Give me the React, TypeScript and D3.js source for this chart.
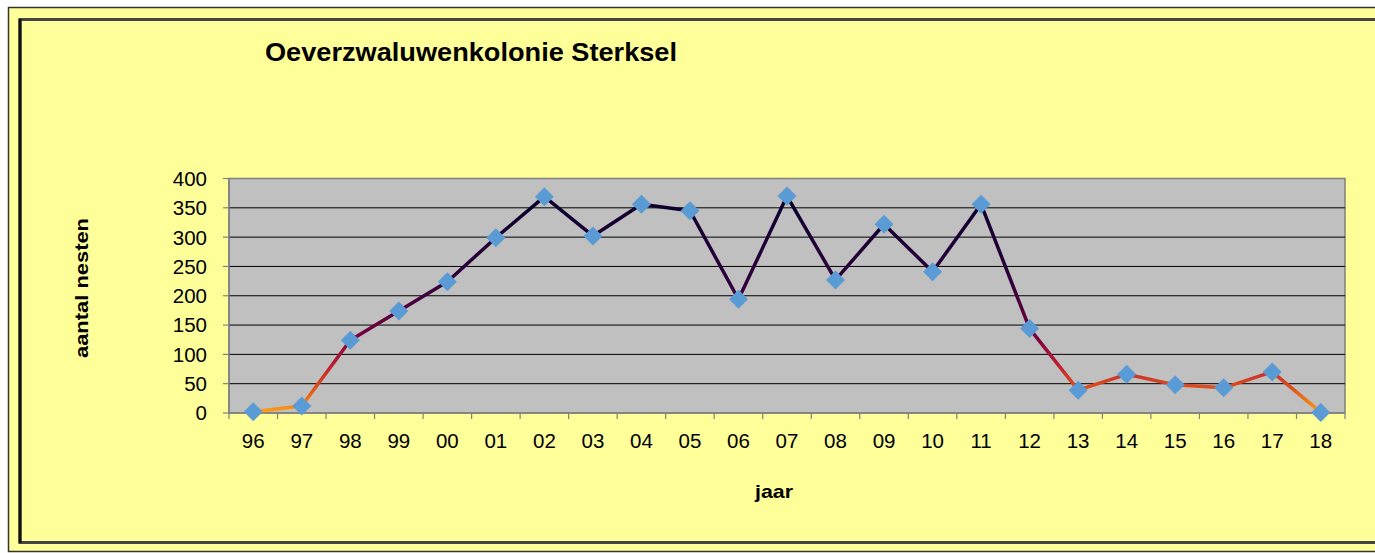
import React from "react";
import * as d3 from "d3";

const years = ["96","97","98","99","00","01","02","03","04","05","06","07","08","09","10","11","12","13","14","15","16","17","18"];
const nests = [2,12,124,174,224,299,369,302,356,345,194,370,227,322,241,356,144,39,66,48,43,70,1];
const yTicks = [0,50,100,150,200,250,300,350,400];

const W = 1375, H = 553;
const plot = { left: 229, right: 1345, top: 178.5, bottom: 413 };

export default function App() {
  const x = d3.scaleBand<string>().domain(years).range([plot.left, plot.right]).padding(0);
  const y = d3.scaleLinear().domain([0, 400]).range([plot.bottom, plot.top]);
  const cx = (d: string) => (x(d) as number) + x.bandwidth() / 2;
  const line = d3.line<number>().x((_, i) => cx(years[i])).y((v) => y(v));
  const font = "'Liberation Sans', Arial, sans-serif";
  const boundaries = years.map((d) => x(d) as number).concat([plot.right]);
  const ms = 9.5;
  return (
    <svg width={W} height={H} style={{ position: "absolute", left: 0, top: 0 }}>
      <defs>
        <linearGradient id="lg" gradientUnits="userSpaceOnUse" x1={0} x2={0} y1={y(0)} y2={y(400)}>
          <stop offset="0%" stopColor="#FFA010" />
          <stop offset="10%" stopColor="#E0541A" />
          <stop offset="20%" stopColor="#C02030" />
          <stop offset="32%" stopColor="#7A0040" />
          <stop offset="55%" stopColor="#30003C" />
          <stop offset="100%" stopColor="#000028" />
        </linearGradient>
      </defs>
      <rect x={0} y={0} width={W} height={H} fill="#ffffff" />
      <rect x={8.5} y={7.5} width={W + 20} height={544} fill="#FFFF99" stroke="#333" strokeWidth={1.5} />
      <rect x={20} y={19.5} width={W + 20} height={523} fill="#FFFF99" stroke="#444" strokeWidth={3} />
      <line x1={20} y1={19} x2={20} y2={543} stroke="#111" strokeWidth={3} />
      <text x={265} y={60.5} fontFamily={font} fontWeight="bold" fontSize={25} textLength={412} lengthAdjust="spacingAndGlyphs" fill="#000">Oeverzwaluwenkolonie Sterksel</text>
      <rect x={plot.left} y={plot.top} width={plot.right - plot.left} height={plot.bottom - plot.top} fill="#C0C0C0" stroke="#808080" strokeWidth={1.5} />
      {yTicks.filter((t) => t > 0 && t < 400).map((t) => (
        <line key={t} x1={plot.left} x2={plot.right} y1={y(t)} y2={y(t)} stroke="#000" strokeWidth={1} />
      ))}
      <line x1={plot.left} x2={plot.left} y1={plot.top} y2={plot.bottom} stroke="#808080" strokeWidth={1.5} />
      <line x1={plot.left} x2={plot.right} y1={plot.bottom} y2={plot.bottom} stroke="#808080" strokeWidth={1.5} />
      {yTicks.map((t) => (
        <g key={t}>
          <line x1={plot.left - 6} x2={plot.left} y1={y(t)} y2={y(t)} stroke="#808080" strokeWidth={1.2} />
          <text x={207} y={y(t)} dy="0.36em" textAnchor="end" fontFamily={font} fontSize={20.5} fill="#000">{t}</text>
        </g>
      ))}
      {boundaries.map((b, i) => (
        <line key={i} x1={b} x2={b} y1={plot.bottom} y2={plot.bottom + 6} stroke="#808080" strokeWidth={1.2} />
      ))}
      {years.map((d) => (
        <text key={d} x={cx(d)} y={448} textAnchor="middle" fontFamily={font} fontSize={20.5} fill="#000">{d}</text>
      ))}
      <path d={line(nests) ?? ""} fill="none" stroke="url(#lg)" strokeWidth={3.5} strokeLinejoin="round" />
      {nests.map((v, i) => {
        const px = cx(years[i]), py = y(v);
        return <path key={i} d={`M${px},${py - ms}L${px + ms},${py}L${px},${py + ms}L${px - ms},${py}Z`} fill="#5B9BD5" />;
      })}
      <text x={774} y={498} textAnchor="middle" fontFamily={font} fontWeight="bold" fontSize={19} textLength={38} lengthAdjust="spacingAndGlyphs" fill="#000">jaar</text>
      <text transform={`translate(88,288) rotate(-90)`} textAnchor="middle" fontFamily={font} fontWeight="bold" fontSize={19} textLength={140} lengthAdjust="spacingAndGlyphs" fill="#000">aantal nesten</text>
    </svg>
  );
}
